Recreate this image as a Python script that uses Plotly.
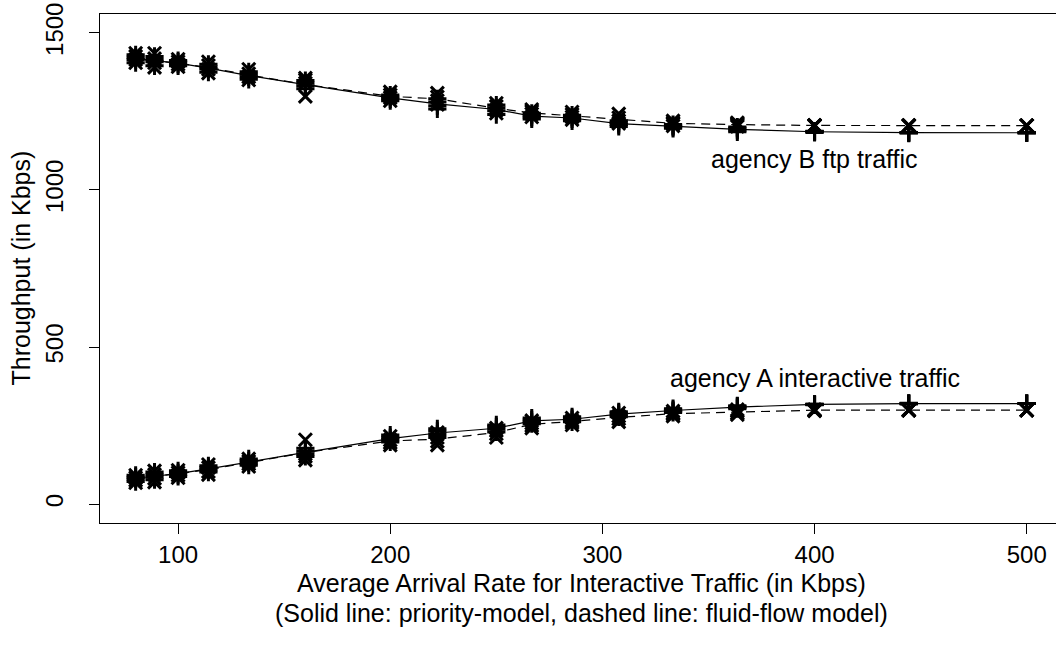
import numpy as np
import plotly.graph_objects as go

# Average arrival rate of interactive traffic (Kbps)
rates = [80, 88.9, 100, 114.3, 133.3, 160, 200, 222.2, 250, 266.7,
         285.7, 307.7, 333.3, 363.6, 400, 444.4, 500]

# Replicated throughput measurements (Kbps), four runs per arrival rate
b_priority_runs = [
    [1405, 1415, 1422, 1430], [1395, 1408, 1415, 1425], [1395, 1400, 1407, 1412],
    [1375, 1385, 1392, 1400], [1352, 1360, 1368, 1376], [1322, 1332, 1340, 1348],
    [1284, 1290, 1296, 1302], [1258, 1268, 1280, 1290], [1240, 1252, 1262, 1270],
    [1226, 1232, 1238, 1244], [1220, 1226, 1232, 1238], [1202, 1208, 1214, 1220],
    [1196, 1200, 1204, 1208], [1185, 1190, 1196, 1200], [1183, 1185, 1186, 1187],
    [1181, 1182, 1183, 1183], [1182, 1182, 1182, 1182],
]
b_fluid_runs = [
    [1405, 1415, 1425, 1435], [1390, 1405, 1418, 1435], [1392, 1400, 1408, 1416],
    [1372, 1384, 1396, 1408], [1350, 1360, 1370, 1384], [1298, 1340, 1350, 1356],
    [1284, 1294, 1302, 1312], [1272, 1284, 1296, 1308], [1244, 1254, 1266, 1276],
    [1232, 1242, 1250, 1256], [1224, 1232, 1240, 1248], [1212, 1220, 1230, 1242],
    [1204, 1210, 1214, 1220], [1202, 1206, 1210, 1214], [1204, 1205, 1206, 1206],
    [1204, 1205, 1205, 1206], [1205, 1205, 1205, 1205],
]
a_priority_runs = [
    [72, 80, 86, 92], [78, 86, 94, 102], [88, 94, 100, 106],
    [102, 109, 116, 122], [124, 131, 138, 144], [152, 160, 168, 178],
    [198, 205, 212, 220], [212, 222, 232, 240], [230, 238, 246, 252],
    [256, 262, 268, 274], [262, 268, 273, 278], [278, 284, 290, 294],
    [292, 296, 300, 304], [304, 308, 311, 313], [316, 317, 318, 318],
    [319, 320, 320, 321], [320, 320, 320, 320],
]
a_fluid_runs = [
    [68, 76, 84, 92], [70, 82, 94, 106], [84, 92, 100, 108],
    [94, 104, 116, 126], [120, 128, 136, 144], [140, 152, 160, 205],
    [188, 196, 204, 216], [188, 200, 212, 228], [212, 224, 234, 242],
    [242, 250, 258, 266], [252, 260, 266, 274], [262, 272, 280, 290],
    [280, 286, 290, 296], [285, 290, 296, 301], [297, 299, 300, 300],
    [298, 299, 299, 300], [299, 299, 299, 299],
]

x_ticks = [100, 200, 300, 400, 500]
y_ticks = [0, 500, 1000, 1500]

FONT = "Liberation Sans, Arial, sans-serif"
FS = 25
TICK_FS = 24

fig = go.Figure()


def add_series(runs, symbol, dash):
    runs = np.asarray(runs, dtype=float)
    means = runs.mean(axis=1)
    # mean curve
    fig.add_trace(go.Scatter(
        x=rates, y=means, mode="lines",
        line=dict(color="black", width=1.2, dash=dash),
        hoverinfo="skip", showlegend=False,
    ))
    # individual runs
    xs = np.repeat(rates, runs.shape[1])
    fig.add_trace(go.Scatter(
        x=xs, y=runs.ravel(), mode="markers",
        marker=dict(symbol=symbol, size=13, color="black",
                    line=dict(color="black", width=3)),
        showlegend=False,
    ))


add_series(b_priority_runs, "cross-thin", "solid")
add_series(b_fluid_runs, "x-thin", "9px,6px")
add_series(a_priority_runs, "cross-thin", "solid")
add_series(a_fluid_runs, "x-thin", "9px,6px")

txt_font = dict(family=FONT, size=FS, color="black")

fig.add_annotation(x=400, y=1100, xref="x", yref="y", text="agency B ftp traffic",
                   showarrow=False, font=txt_font)
fig.add_annotation(x=400, y=400, xref="x", yref="y", text="agency A interactive traffic",
                   showarrow=False, font=txt_font)

# axis titles
fig.add_annotation(x=290, y=0, xref="x", yref="paper", yanchor="top", yshift=-44,
                   text="Average Arrival Rate for Interactive Traffic (in Kbps)",
                   showarrow=False, font=txt_font)
fig.add_annotation(x=290, y=0, xref="x", yref="paper", yanchor="top", yshift=-74,
                   text="(Solid line: priority-model, dashed line: fluid-flow model)",
                   showarrow=False, font=txt_font)
fig.add_annotation(x=0, y=750, xref="paper", yref="y", xanchor="center", xshift=-80,
                   textangle=-90, text="Throughput (in Kbps)",
                   showarrow=False, font=txt_font)

axis_common = dict(
    showgrid=False, zeroline=False, showline=True, linecolor="black", linewidth=1,
    ticks="outside", ticklen=10, tickwidth=1, tickcolor="black",
    tickfont=dict(family=FONT, size=TICK_FS, color="black"),
)
fig.update_xaxes(range=[63.2, 513.8], tickvals=x_ticks, mirror=True, **axis_common)
fig.update_yaxes(range=[-60, 1560], tickvals=y_ticks, tickangle=-90, mirror=False,
                 ticklabelstandoff=16, **axis_common)

fig.update_layout(
    width=1056, height=649,
    margin=dict(l=100, r=0, t=14, b=126),
    paper_bgcolor="white", plot_bgcolor="white",
    font=dict(family=FONT, size=FS, color="black"),
)

fig.write_html("out.html")
